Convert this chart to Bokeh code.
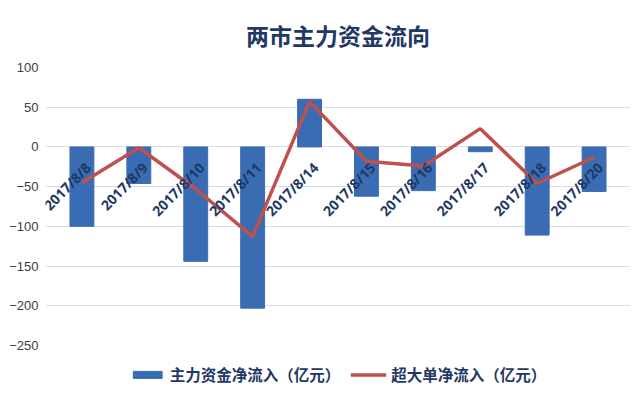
from bokeh.plotting import figure
from bokeh.models import ColumnDataSource, FixedTicker, Legend, LegendItem, LabelSet, FactorRange
from bokeh.core.properties import value
from bokeh.embed import file_html
from bokeh.resources import INLINE

# data
dates = ["2017/8/8", "2017/8/9", "2017/8/10", "2017/8/11", "2017/8/14",
         "2017/8/15", "2017/8/16", "2017/8/17", "2017/8/18", "2017/8/20"]
main_flow = [-100, -46, -144, -203, 60, -62, -55, -6, -111, -56]
super_flow = [-45, -1, -53, -113, 57, -18, -24, 23, -46, -13]
y_ticks = [-250, -200, -150, -100, -50, 0, 50, 100]

bar_color = "#3a6cb3"
line_color = "#c0504d"
text_color = "#1f3864"
cjk = "Noto Sans CJK SC"

source = ColumnDataSource(data=dict(date=dates, main=main_flow, big=super_flow,
                                    zero=[0] * len(dates)))

# a little padding so the first date label is not clipped by the frame
x_range = FactorRange(factors=dates, range_padding=0.14, range_padding_units="absolute")

p = figure(x_range=x_range, y_range=(-250, 100), frame_width=585, frame_height=278,
           output_backend="svg", toolbar_location=None, tools="", x_axis_location=None,
           min_border_left=45, min_border_right=5, min_border_top=67, min_border_bottom=0)

p.title.text = "两市主力资金流向"
p.title.align = "center"
p.title.text_font = cjk
p.title.text_font_size = "23px"
p.title.text_color = text_color
p.title.standoff = 31
p.title.offset = -27

bars = p.vbar(x="date", top="main", width=0.42, color=bar_color, source=source)
line = p.line(x="date", y="big", line_width=3.5, color=line_color, source=source)

# date labels hanging under the zero line
labels = LabelSet(x="date", y="zero", text="date", source=source, angle=0.8,
                  text_align="right", text_baseline="middle", x_offset=6, y_offset=-18,
                  text_font=value("Noto Sans"), text_font_size="14px", text_font_style="bold",
                  text_color=text_color)
p.add_layout(labels)

p.yaxis.ticker = FixedTicker(ticks=y_ticks)
p.yaxis.axis_line_color = None
p.yaxis.major_tick_line_color = None
p.yaxis.minor_tick_line_color = None
p.yaxis.major_label_text_font = "Liberation Sans"
p.yaxis.major_label_text_font_size = "13px"
p.yaxis.major_label_text_color = "#404040"
p.yaxis.major_label_standoff = 1

p.xgrid.grid_line_color = None
p.ygrid.grid_line_color = "#d9dee6"
p.ygrid.ticker = FixedTicker(ticks=y_ticks)
p.outline_line_color = None

legend = Legend(items=[LegendItem(label="主力资金净流入（亿元）", renderers=[bars]),
                       LegendItem(label="超大单净流入（亿元）", renderers=[line])],
                orientation="horizontal", location="top", padding=5, margin=18,
                label_text_font=cjk, label_text_font_size="15.5px",
                label_text_font_style="bold", label_text_color=text_color,
                glyph_width=36, glyph_height=9, spacing=10,
                border_line_color=None, background_fill_alpha=0)
p.add_layout(legend, "below")

open("out.html", "w").write(file_html(p, INLINE))
